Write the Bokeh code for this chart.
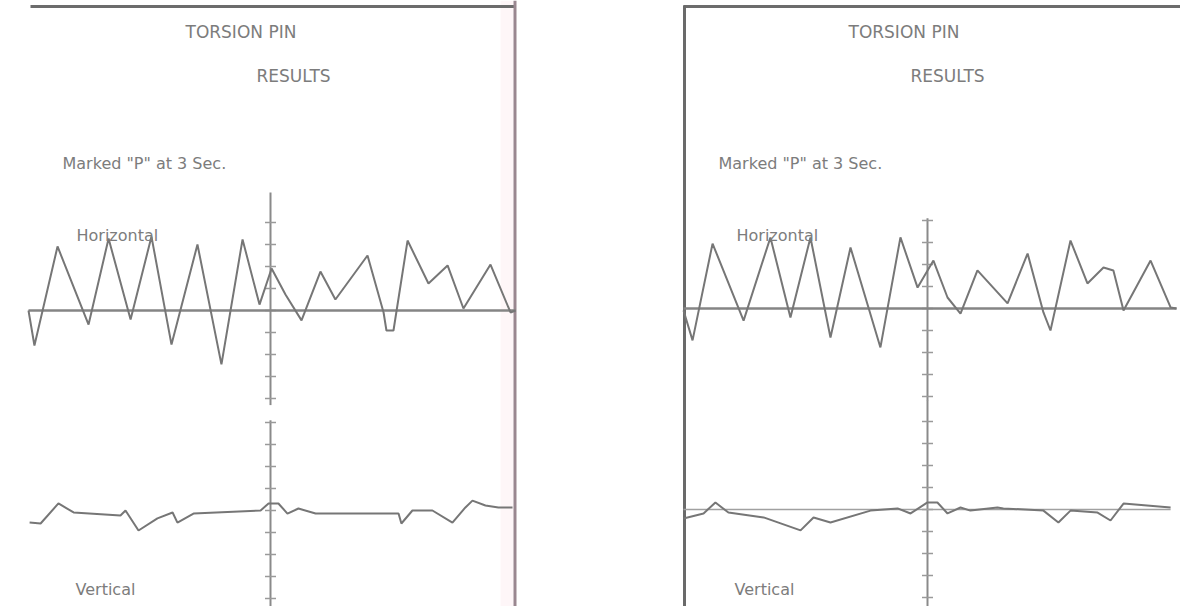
from bokeh.plotting import figure
from bokeh.models import Range1d
from bokeh.core.properties import value
from bokeh.embed import file_html
from bokeh.resources import INLINE

# ---------------- data (t: time divisions from the centre axis, a: deflection divisions) ----------------
left_h_t = [-11.0, -10.73, -9.68, -8.27, -7.36, -6.36, -5.41, -4.50, -3.32, -2.23, -1.27, -0.50, 0.05,
            0.68, 1.41, 2.27, 2.95, 4.41, 5.14, 5.27, 5.59, 6.23, 7.18, 8.05, 8.77, 10.00, 10.91, 11.14]
left_h_a = [0.0, -1.59, 2.91, -0.64, 3.27, -0.41, 3.36, -1.55, 3.00, -2.45, 3.23, 0.27, 1.91,
            0.73, -0.45, 1.77, 0.50, 2.50, -0.09, -0.91, -0.91, 3.18, 1.23, 2.05, 0.09, 2.09, -0.09, 0.0]

left_v_t = [-10.95, -10.45, -9.64, -8.95, -6.82, -6.59, -6.00, -5.14, -4.45, -4.23, -3.50, -0.45, -0.09,
            0.36, 0.77, 1.27, 2.05, 5.82, 5.95, 6.45, 7.36, 8.27, 8.86, 9.18, 9.77, 10.36, 11.0]
left_v_a = [-0.55, -0.59, 0.32, -0.09, -0.23, 0.0, -0.91, -0.36, -0.09, -0.55, -0.14, 0.0, 0.32,
            0.32, -0.14, 0.09, -0.14, -0.14, -0.59, 0.0, 0.0, -0.55, 0.14, 0.45, 0.23, 0.14, 0.14]

right_h_t = [-11.09, -10.68, -9.77, -8.36, -7.14, -6.23, -5.32, -4.41, -3.50, -2.14, -1.23, -0.45, 0.27,
             0.91, 1.50, 2.27, 3.64, 4.55, 5.27, 5.59, 6.50, 7.27, 8.00, 8.45, 8.91, 10.14, 11.05, 11.32]
right_h_a = [-0.09, -1.45, 2.95, -0.55, 3.23, -0.41, 3.23, -1.32, 2.77, -1.77, 3.23, 0.95, 2.18,
             0.50, -0.23, 1.73, 0.23, 2.50, -0.18, -1.00, 3.09, 1.14, 1.86, 1.73, -0.09, 2.18, 0.05, 0.0]

right_v_t = [-11.09, -10.18, -9.64, -9.05, -7.45, -5.77, -5.18, -4.41, -2.59, -1.36, -0.77, 0.0, 0.45,
             0.91, 1.50, 1.95, 3.18, 3.45, 5.27, 5.95, 6.50, 7.73, 8.32, 8.91, 11.05]
right_v_a = [-0.41, -0.18, 0.32, -0.14, -0.36, -0.95, -0.36, -0.59, -0.05, 0.05, -0.18, 0.32, 0.32,
             -0.18, 0.09, -0.05, 0.09, 0.05, -0.05, -0.59, -0.05, -0.14, -0.50, 0.27, 0.09]

axis_ticks = [-4, -3, -2, -1, 0, 1, 2, 3, 4]

label_title = "TORSION PIN"
label_sub = "RESULTS"
label_mark = 'Marked "P" at 3 Sec.'
label_h = "Horizontal"
label_v = "Vertical"

# ---------------- layout ----------------
W, H = 1180, 606
PPD = 22.0  # pixels per division

def xr(axis_px):
    return Range1d(-axis_px / PPD, (W - axis_px) / PPD)

def yr(base_py):
    return Range1d((base_py - H) / PPD, base_py / PPD)

p = figure(width=W, height=H, output_backend="svg", toolbar_location=None,
           x_range=Range1d(0, W), y_range=Range1d(H, 0),
           x_axis_type=None, y_axis_type=None, min_border=0)
p.outline_line_color = None
p.background_fill_color = "white"
p.border_fill_color = "white"

p.extra_x_ranges = {"L": xr(270), "R": xr(927)}
p.extra_y_ranges = {"LH": yr(310), "LV": yr(510), "RH": yr(308), "RV": yr(509)}

TRACE = "#767676"
AXIS = "#8a8a8a"
TEXT = "#7c7c7c"

# panel frames (page pixel coordinates)
p.quad(left=[500], right=[513], top=[0], bottom=[H], fill_color="#fbe6ec", fill_alpha=0.35, line_color=None)
p.segment(x0=[30, 683], y0=[6, 6], x1=[515, W], y1=[6, 6], line_color="#6c6c6c", line_width=3)
p.segment(x0=[514.5], y0=[0], x1=[514.5], y1=[H], line_color="#9a8790", line_width=3)
p.segment(x0=[684], y0=[5], x1=[684], y1=[H], line_color="#6a6a6a", line_width=3)

panels = [
    dict(xn="L", hn="LH", vn="LV", ht=left_h_t, ha=left_h_a, vt=left_v_t, va=left_v_a,
         up=(5.36, -4.3), low=(4.1, -4.5), vbase=False,
         tx=[185, 256, 62, 76, 75], ),
    dict(xn="R", hn="RH", vn="RV", ht=right_h_t, ha=right_h_a, vt=right_v_t, va=right_v_a,
         up=(4.1, -4.2), low=(4.95, -4.5), vbase=True,
         tx=[848, 910, 718, 736, 734], ),
]

for pn in panels:
    xn, hn, vn = pn["xn"], pn["hn"], pn["vn"]
    # centre axis with ticks (upper and lower halves)
    p.segment(x0=[0], y0=[pn["up"][0]], x1=[0], y1=[pn["up"][1]], line_color=AXIS, line_width=2,
              x_range_name=xn, y_range_name=hn)
    p.segment(x0=[0], y0=[pn["low"][0]], x1=[0], y1=[pn["low"][1]], line_color=AXIS, line_width=2,
              x_range_name=xn, y_range_name=vn)
    for rn in (hn, vn):
        p.segment(x0=[-0.25] * len(axis_ticks), y0=axis_ticks, x1=[0.25] * len(axis_ticks), y1=axis_ticks,
                  line_color="#9a9a9a", line_width=1.5, x_range_name=xn, y_range_name=rn)
    # baselines
    p.line([pn["ht"][0], pn["ht"][-1]], [0, 0], line_color="#858585", line_width=2.5,
           x_range_name=xn, y_range_name=hn)
    if pn["vbase"]:
        p.line([pn["vt"][0], pn["vt"][-1]], [0, 0], line_color="#a0a0a0", line_width=1.5,
               x_range_name=xn, y_range_name=vn)
    # traces
    p.line(pn["ht"], pn["ha"], line_color=TRACE, line_width=2, x_range_name=xn, y_range_name=hn)
    p.line(pn["vt"], pn["va"], line_color=TRACE, line_width=2, x_range_name=xn, y_range_name=vn)
    # texts
    tx = pn["tx"]
    p.text(x=tx[:2], y=[31, 75], text=[label_title, label_sub],
           text_font=value("DejaVu Sans"), text_font_size="17px", text_color=TEXT,
           text_baseline="middle", text_align="left")
    p.text(x=tx[2:], y=[163, 235, 589], text=[label_mark, label_h, label_v],
           text_font=value("DejaVu Sans"), text_font_size="16px", text_color=TEXT,
           text_baseline="middle", text_align="left")

open("out.html", "w").write(file_html(p, INLINE))
